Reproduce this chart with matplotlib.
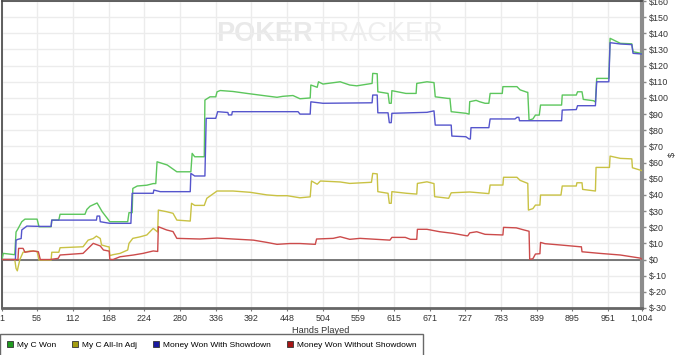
import matplotlib
matplotlib.use("Agg")
import matplotlib.pyplot as plt
from matplotlib.lines import Line2D

plt.rcParams["font.family"] = ["Liberation Sans", "DejaVu Sans"]

# hands played / cumulative $ for each series
won_hands = [1, 3, 21, 23, 26, 32, 37, 56, 59, 78, 79, 90, 92, 131, 134, 139, 150, 153, 158, 166,
             170, 198, 200, 205, 206, 213, 228, 238, 242, 244, 260, 275, 297, 299, 303, 318, 319,
             327, 336, 338, 343, 363, 385, 416, 432, 441, 457, 468, 484, 485, 495, 497, 504, 531,
             546, 557, 581, 582, 589, 590, 606, 608, 611, 612, 634, 650, 651, 667, 678, 680, 700,
             703, 705, 728, 733, 734, 744, 750, 758, 764, 766, 785, 786, 808, 813, 824, 825, 827,
             833, 837, 843, 845, 878, 879, 901, 903, 910, 912, 928, 931, 933, 952, 954, 970, 988,
             990, 1004]
won_vals = [0, 3.8, 3, 17, 19, 23.4, 25, 25, 20.3, 20.3, 24.4, 24.4, 28, 28, 31, 33, 35, 33, 29.6,
            25.5, 23.4, 23.4, 29, 29, 44, 45.5, 46, 47, 47, 60.5, 58.5, 54.3, 54.3, 65.7, 63.6,
            63.6, 98.7, 100.7, 100.7, 103.8, 104.6, 104, 102.8, 101.2, 100.4, 101, 101.5, 99.5,
            100, 108, 106.6, 110, 108.6, 110, 108, 107.5, 109, 115.2, 115, 103.8, 102.8, 96.7,
            96.7, 104.5, 102.8, 102.8, 109, 110, 109.5, 100.7, 99.7, 99.7, 91.5, 90.5, 90, 97.7,
            98.5, 97.6, 96.7, 96.7, 102.8, 102.8, 107, 107, 105, 103.5, 103.5, 86.3, 87, 89.4,
            89.4, 95.6, 95.6, 101.8, 101.8, 103.8, 103.8, 99.1, 98.3, 97.5, 112.1, 112.1, 136.9,
            133.8, 133.5, 128.6, 127.5]

adj_hands = [1, 21, 23, 25, 27, 29, 34, 45, 56, 59, 78, 79, 90, 92, 128, 136, 144, 149, 155, 157,
             166, 169, 170, 175, 186, 198, 200, 206, 217, 228, 238, 245, 246, 259, 269, 275, 296,
             298, 303, 318, 322, 338, 363, 390, 416, 432, 448, 468, 484, 486, 495, 500, 531, 546,
             580, 582, 589, 590, 606, 608, 611, 612, 635, 651, 652, 667, 678, 679, 701, 705, 734,
             758, 764, 766, 786, 787, 808, 813, 825, 826, 833, 837, 844, 845, 877, 879, 901, 902,
             910, 911, 931, 932, 953, 954, 970, 988, 989, 1004]
adj_vals = [0, 0, -5.5, -7, -3.4, 0, 4.5, 5.3, 5, -0.3, -0.3, 4.5, 4.5, 7.3, 7.9, 12, 13, 14.5, 13,
            9, 8, 7.8, 2.4, 3, 3.8, 5.9, 10, 13.1, 14, 15.2, 19.3, 17, 30.6, 29.6, 28.6, 24.4,
            23.8, 34.8, 33.5, 33.5, 37.9, 42.4, 42.4, 41.6, 40, 39.5, 39.5, 38.2, 38.8, 48.6,
            46.6, 48.6, 48, 47.1, 47.8, 53.3, 53, 42, 41, 34.8, 34.8, 42, 41, 40.5, 47.1, 48.1,
            47, 38.9, 37.9, 41.3, 41.8, 41, 40.8, 46.1, 46.1, 50.9, 50.9, 49, 47.1, 30.6, 31.5,
            33.7, 33.7, 39.9, 39.9, 45.5, 45.5, 47.5, 47.5, 43.4, 42.4, 57, 57, 64, 62.6, 62.3,
            56.8, 55]

sd_hands = [1, 22, 23, 26, 31, 32, 40, 61, 78, 79, 149, 150, 154, 155, 170, 203, 205, 238, 239,
            249, 296, 297, 303, 319, 321, 336, 339, 355, 356, 361, 362, 465, 468, 484, 485, 504,
            581, 582, 589, 590, 606, 608, 611, 612, 667, 678, 680, 705, 706, 728, 733, 735, 736,
            764, 766, 805, 808, 811, 812, 878, 879, 901, 903, 931, 933, 952, 954, 970, 988, 990,
            1004]
sd_vals = [0, 0, 12, 12.5, 13, 18.3, 20.7, 20.5, 20.5, 24.4, 24.4, 26.9, 26.9, 23.4, 22.4, 22.4,
           41, 41, 43, 42, 42, 53.3, 51.7, 51.7, 87.4, 87.4, 91.5, 91, 89.5, 89.5, 91.5, 91.5, 90,
           90, 97.6, 96.7, 97, 101.8, 101.8, 90.8, 90.8, 84.7, 84.7, 90.5, 91.1, 92, 83.2, 83.2,
           76.4, 76, 74.6, 74.6, 81.6, 81.6, 87, 87, 88, 88, 85.9, 85.9, 92.5, 92.8, 95.2, 95.2,
           110, 110, 134.2, 133.4, 133, 127.6, 127.2]

nsd_hands = [1, 26, 27, 34, 37, 50, 58, 61, 76, 89, 92, 128, 136, 144, 155, 160, 169, 170, 175,
             186, 207, 222, 238, 245, 246, 259, 269, 275, 311, 338, 363, 395, 416, 432, 452, 468,
             492, 494, 520, 531, 546, 562, 609, 612, 633, 641, 651, 652, 667, 687, 708, 729, 731,
             734, 745, 758, 786, 787, 807, 819, 827, 828, 833, 837, 844, 845, 852, 876, 907, 909,
             910, 938, 970, 1001, 1004]
nsd_vals = [0, 0, 6.9, 6.9, 4.5, 5.3, 4.8, 0, 0, 0.7, 2.8, 3.8, 6.9, 10, 8.4, 5.9, 5.2, 0.1, 0,
            1.7, 2.8, 3.8, 5.3, 5, 20.3, 18.3, 17.3, 13.1, 12.7, 13.3, 12.7, 12, 10.6, 9.4, 9.9,
            9.9, 9.4, 12.7, 13.1, 14.1, 12.5, 13.1, 12, 13.7, 13.7, 12.5, 12.5, 18.7, 18.7, 17.2,
            16.2, 14.7, 14.7, 16.5, 17.2, 15.6, 15.2, 19.9, 19.6, 18.3, 17.5, 0.1, 0.5, 3.4, 3.6,
            10.6, 9.8, 9, 7.9, 7.9, 4.8, 3.8, 2.8, 0.9, 0.2]

x_ticks = [1, 56, 112, 168, 224, 280, 336, 392, 448, 504, 559, 615, 671, 727, 783, 839, 895, 951, 1004]
x_labels = [f"{v:,}" for v in x_ticks]
y_ticks = list(range(-30, 161, 10))

series = [
    ("My C Won", won_hands, won_vals, "#5cc65c", "#1f9a1f"),
    ("My C All-In Adj", adj_hands, adj_vals, "#c9c244", "#a39c10"),
    ("Money Won With Showdown", sd_hands, sd_vals, "#5555cc", "#1a1aa0"),
    ("Money Won Without Showdown", nsd_hands, nsd_vals, "#cc4b4b", "#a51515"),
]

fig = plt.figure(figsize=(7.0, 3.55), dpi=100)
ax = fig.add_axes([2 / 700, 47 / 355, 640 / 700, 307 / 355])

ax.set_xlim(1, 1004)
ax.set_ylim(-30, 160)

ax.set_xticks(x_ticks)
ax.set_xticklabels(x_labels)
ax.set_yticks(y_ticks)
ax.set_yticklabels([f"${v}" for v in y_ticks])
ax.yaxis.tick_right()
ax.tick_params(axis="y", direction="out", length=3, width=1, color="#888888",
               labelsize=6.4, labelcolor="#333333", pad=2)
ax.tick_params(axis="x", direction="out", length=2.5, width=0.8, color="#777777",
               labelsize=6.4, labelcolor="#333333", pad=1.5)
ax.grid(True, color="#ececec", linewidth=1)
ax.set_axisbelow(True)
ax.axhline(0, color="#555555", linewidth=1.1, zorder=1)

for name, hx, hy, lc, mc in series:
    ax.plot(hx, hy, color=lc, linewidth=1.0, zorder=3)

for side in ("left", "top"):
    ax.spines[side].set_color("#444444")
    ax.spines[side].set_linewidth(1.2)
ax.spines["bottom"].set_color("#666666")
ax.spines["bottom"].set_linewidth(2)
ax.spines["right"].set_color("#8c8c8c")
ax.spines["right"].set_linewidth(3)

ax.set_xlabel("Hands Played", fontsize=6.6, color="#333333")
ax.xaxis.set_label_coords((321 - 2) / 640, (308 - 326) / 307)
ax.set_ylabel("$", fontsize=6.6, color="#333333", rotation=90)
ax.yaxis.set_label_coords((677 - 2) / 640, 0.5)

# watermark
ax.text(0.486, 0.893, "POKER", transform=ax.transAxes, ha="right", va="center",
        fontsize=19.5, fontweight="bold", color="#e9e9e9", zorder=0)
ax.text(0.486, 0.893, "TRACKER", transform=ax.transAxes, ha="left", va="center",
        fontsize=19.5, color="#eeeeee", zorder=0)

handles = [Line2D([], [], linestyle="none", marker="s", markersize=4.5,
                  markerfacecolor=mc, markeredgecolor="#333333", markeredgewidth=0.6)
           for _, _, _, _, mc in series]
labels = [s[0] for s in series]
leg = fig.legend(handles, labels, loc="upper left", bbox_to_anchor=(0.0, 21 / 355),
                 ncol=4, fontsize=6.0, frameon=True, fancybox=False, borderpad=0.85,
                 handlelength=0.8, handletextpad=0.4, columnspacing=1.9, borderaxespad=0)
leg.get_frame().set_edgecolor("#444444")
leg.get_frame().set_linewidth(1)

fig.savefig("out.png", dpi=100)
